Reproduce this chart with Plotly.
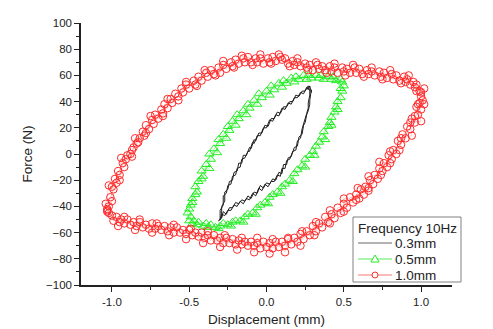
import plotly.graph_objects as go

# Hysteresis loops at 10 Hz: displacement (mm) vs force (N), recorded over several cycles
black_cycle_a = [(-0.30,-50),(-0.30,-43),(-0.28,-39),(-0.28,-32),(-0.26,-30),(-0.25,-24),(-0.23,-23),(-0.22,-17),
    (-0.20,-16),(-0.19,-11),(-0.17,-10),(-0.16,-4),(-0.14,-3),(-0.12,2),(-0.11,2),(-0.09,9),(-0.08,8),(-0.06,14),
    (-0.04,14),(-0.02,20),(0.00,20),(0.02,26),(0.04,25),(0.06,30),(0.08,29),(0.10,35),(0.12,34),(0.14,39),(0.16,38),
    (0.18,43),(0.20,43),(0.22,47),(0.24,46),(0.26,51),(0.27,49),(0.28,52),(0.29,47),
    (0.29,49),(0.28,41),(0.28,38),(0.27,33),(0.26,30),(0.25,24),(0.24,22),(0.23,15),(0.21,13),(0.20,6),(0.18,5),
    (0.16,-2),(0.14,-3),(0.13,-8),(0.11,-8),(0.10,-15),(0.08,-14),(0.06,-20),(0.04,-19),(0.02,-23),(0.00,-22),
    (-0.02,-26),(-0.04,-24),(-0.06,-30),(-0.08,-29),(-0.10,-34),(-0.12,-32),(-0.14,-36),(-0.16,-35),(-0.18,-38),
    (-0.20,-37),(-0.22,-41),(-0.24,-41),(-0.26,-46),(-0.28,-44),(-0.29,-49),(-0.31,-51)]
black_cycle_b = [(-0.29,-48),(-0.29,-40),(-0.27,-36),(-0.27,-29),(-0.25,-27),(-0.24,-21),(-0.22,-20),(-0.21,-14),
    (-0.19,-13),(-0.18,-7),(-0.16,-7),(-0.15,-1),(-0.13,-1),(-0.11,5),(-0.10,4),(-0.08,11),(-0.07,10),(-0.05,16),
    (-0.03,16),(-0.01,22),(0.01,21),(0.03,27),(0.05,27),(0.07,32),(0.09,31),(0.11,36),(0.13,36),(0.15,40),(0.17,40),
    (0.19,45),(0.21,44),(0.23,48),(0.25,48),(0.27,52),(0.28,48),
    (0.28,45),(0.27,39),(0.27,35),(0.26,31),(0.25,27),(0.24,21),(0.23,19),(0.22,12),(0.20,10),(0.19,3),(0.17,2),
    (0.15,-4),(0.13,-5),(0.12,-11),(0.10,-11),(0.09,-17),(0.07,-16),(0.05,-21),(0.03,-21),(0.01,-25),(-0.01,-23),
    (-0.03,-28),(-0.05,-26),(-0.07,-32),(-0.09,-30),(-0.11,-35),(-0.13,-34),(-0.15,-38),(-0.17,-36),(-0.19,-40),
    (-0.21,-39),(-0.23,-43),(-0.25,-43),(-0.27,-47),(-0.29,-46),(-0.30,-50)]

green_cycle_a = [(-0.50,-51),(-0.51,-45),(-0.49,-39),(-0.48,-34),(-0.45,-29),(-0.44,-21),(-0.41,-17),(-0.39,-8),
    (-0.36,-4),(-0.34,4),(-0.30,8),(-0.28,15),(-0.24,18),(-0.22,25),(-0.18,27),(-0.15,33),(-0.11,35),(-0.08,41),
    (-0.03,43),(0.00,48),(0.05,49),(0.08,54),(0.13,54),(0.16,58),(0.21,57),(0.24,60),(0.29,58),(0.32,60),(0.37,57),
    (0.40,59),(0.45,56),(0.48,57),(0.50,52),(0.49,48),
    (0.48,43),(0.45,36),(0.44,32),(0.41,24),(0.40,21),(0.36,13),(0.34,9),(0.30,2),(0.28,-1),(0.23,-9),(0.20,-12),
    (0.15,-20),(0.12,-23),(0.07,-29),(0.04,-31),(-0.01,-37),(-0.04,-39),(-0.09,-45),(-0.12,-46),(-0.17,-51),
    (-0.20,-51),(-0.25,-54),(-0.28,-53),(-0.33,-56),(-0.36,-54),(-0.41,-55),(-0.44,-52),(-0.48,-53)]
green_cycle_b = [(-0.49,-48),(-0.50,-42),(-0.48,-37),(-0.46,-31),(-0.46,-25),(-0.42,-19),(-0.42,-13),(-0.37,-11),
    (-0.37,0),(-0.32,1),(-0.31,11),(-0.26,12),(-0.25,21),(-0.20,22),(-0.19,30),(-0.13,30),(-0.12,38),(-0.06,38),
    (-0.05,46),(0.02,45),(0.03,52),(0.10,51),(0.11,56),(0.18,55),(0.19,59),(0.26,57),(0.27,60),(0.34,58),(0.35,60),
    (0.42,57),(0.43,59),(0.49,55),(0.48,50),
    (0.46,40),(0.46,34),(0.42,28),(0.42,22),(0.37,17),(0.38,11),(0.32,6),(0.31,-1),(0.25,-4),(0.25,-10),(0.18,-15),
    (0.17,-21),(0.10,-25),(0.09,-30),(0.02,-33),(0.01,-38),(-0.06,-41),(-0.07,-46),(-0.14,-48),(-0.15,-52),
    (-0.22,-52),(-0.23,-55),(-0.30,-55),(-0.31,-57),(-0.38,-56),(-0.39,-53),(-0.45,-54),(-0.47,-51)]

red_cycle_a = [(-1.02,-40),(-1.01,-33),(-0.99,-27),(-0.98,-19),(-0.95,-16),(-0.93,-7),(-0.91,-4),(-0.87,3),
    (-0.86,5),(-0.82,12),(-0.80,17),(-0.76,19),(-0.74,26),(-0.70,27),(-0.68,34),(-0.64,35),(-0.62,42),(-0.57,44),
    (-0.55,50),(-0.50,50),(-0.47,56),(-0.42,56),(-0.39,62),(-0.34,61),(-0.31,66),(-0.26,65),(-0.23,70),(-0.18,69),
    (-0.15,73),(-0.10,70),(-0.07,73),(-0.02,69),(0.01,73),(0.06,71),(0.09,74),(0.14,69),(0.17,71),(0.22,67),
    (0.25,69),(0.30,64),(0.33,68),(0.38,64),(0.41,67),(0.46,62),(0.49,66),(0.54,62),(0.57,66),(0.62,61),(0.65,64),
    (0.70,60),(0.73,63),(0.78,58),(0.81,61),(0.86,56),(0.89,59),(0.93,53),(0.95,55),(0.99,48),(1.00,47),
    (1.01,41),(0.98,38),(0.98,30),(0.94,27),(0.93,19),(0.88,15),(0.87,7),(0.82,3),(0.81,-4),(0.76,-7),(0.75,-13),
    (0.70,-16),(0.69,-23),(0.64,-25),(0.63,-31),(0.58,-31),(0.56,-37),(0.50,-38),(0.48,-45),(0.42,-46),(0.40,-52),
    (0.34,-53),(0.32,-59),(0.26,-59),(0.24,-65),(0.18,-64),(0.16,-69),(0.10,-67),(0.08,-71),(0.02,-68),(0.00,-71),
    (-0.06,-68),(-0.08,-70),(-0.14,-67),(-0.16,-69),(-0.22,-65),(-0.24,-68),(-0.30,-64),(-0.32,-66),(-0.38,-62),
    (-0.40,-64),(-0.46,-60),(-0.48,-62),(-0.54,-58),(-0.56,-60),(-0.62,-56),(-0.64,-59),(-0.70,-55),(-0.72,-57),
    (-0.78,-54),(-0.80,-56),(-0.86,-52),(-0.88,-54),(-0.94,-50),(-0.95,-52),(-1.00,-47),(-1.02,-45)]
red_cycle_b = [(-1.03,-43),(-1.00,-36),(-1.00,-25),(-0.97,-22),(-0.96,-13),(-0.92,-10),(-0.90,-1),(-0.88,0),
    (-0.84,8),(-0.83,9),(-0.79,14),(-0.78,22),(-0.73,23),(-0.72,30),(-0.67,31),(-0.66,38),(-0.61,39),(-0.59,46),
    (-0.54,47),(-0.52,53),(-0.46,53),(-0.44,59),(-0.38,59),(-0.36,64),(-0.30,62),(-0.28,68),(-0.22,67),(-0.20,72),
    (-0.14,70),(-0.12,74),(-0.06,70),(-0.04,73),(0.02,70),(0.04,74),(0.10,72),(0.12,73),(0.18,68),(0.20,70),
    (0.26,66),(0.28,68),(0.34,65),(0.36,67),(0.42,63),(0.44,66),(0.50,63),(0.52,65),(0.58,62),(0.60,65),(0.66,61),
    (0.68,63),(0.74,59),(0.76,62),(0.82,57),(0.84,60),(0.90,55),(0.91,57),(0.96,51),(0.97,53),(1.00,44),
    (0.99,39),(1.00,34),(0.96,29),(0.96,24),(0.91,21),(0.90,12),(0.85,10),(0.84,0),(0.79,-1),(0.78,-10),(0.73,-11),
    (0.72,-19),(0.67,-20),(0.66,-28),(0.61,-27),(0.60,-34),(0.54,-33),(0.52,-41),(0.46,-41),(0.44,-49),(0.38,-48),
    (0.36,-56),(0.30,-55),(0.28,-62),(0.22,-61),(0.20,-67),(0.14,-65),(0.12,-70),(0.06,-67),(0.04,-72),(-0.02,-67),
    (-0.04,-72),(-0.10,-67),(-0.12,-70),(-0.18,-66),(-0.20,-69),(-0.26,-64),(-0.28,-68),(-0.34,-62),(-0.36,-66),
    (-0.42,-60),(-0.44,-63),(-0.50,-58),(-0.52,-61),(-0.58,-56),(-0.60,-60),(-0.66,-55),(-0.68,-58),(-0.74,-53),
    (-0.76,-57),(-0.82,-52),(-0.84,-55),(-0.90,-50),(-0.92,-53),(-0.97,-48),(-0.99,-51),(-1.03,-44)]
red_cycle_c = [(-1.04,-38),(-1.02,-24),(-0.95,-20),(-0.94,-3),(-0.87,-2),(-0.85,12),(-0.78,16),(-0.75,29),
    (-0.67,29),(-0.64,42),(-0.57,41),(-0.52,55),(-0.45,52),(-0.40,64),(-0.33,60),(-0.28,71),(-0.21,66),(-0.16,75),
    (-0.09,68),(-0.04,76),(0.03,69),(0.08,76),(0.15,67),(0.20,73),(0.27,64),(0.32,70),(0.39,62),(0.44,69),(0.51,60),
    (0.56,68),(0.63,59),(0.68,66),(0.75,57),(0.80,64),(0.87,54),(0.92,60),(0.97,48),(1.02,50),
    (1.02,38),(0.97,36),(1.00,25),(0.93,24),(0.94,14),(0.87,12),(0.86,3),(0.80,2),(0.80,-7),(0.73,-6),(0.74,-16),
    (0.66,-17),(0.66,-26),(0.59,-26),(0.58,-35),(0.50,-34),(0.50,-44),(0.41,-43),(0.41,-53),(0.32,-52),(0.31,-62),
    (0.23,-59),(0.22,-70),(0.14,-64),(0.12,-75),(0.04,-65),(0.02,-76),(-0.06,-64),(-0.08,-75),(-0.16,-64),
    (-0.19,-73),(-0.27,-62),(-0.30,-71),(-0.38,-59),(-0.41,-68),(-0.49,-57),(-0.52,-65),(-0.60,-54),(-0.63,-62),
    (-0.71,-53),(-0.74,-60),(-0.82,-50),(-0.85,-58),(-0.92,-48),(-0.96,-55),(-1.03,-42)]

x_ticks = [-1.0, -0.5, 0.0, 0.5, 1.0]
x_tick_labels = ["-1.0", "-0.5", "0.0", "0.5", "1.0"]
y_ticks = [-100, -80, -60, -40, -20, 0, 20, 40, 60, 80, 100]
legend_title = "Frequency 10Hz"

# name, points, marker colour, connecting-line colour, legend line colour, symbol, size
series = [
    ("0.3mm", black_cycle_a + black_cycle_b, "#1e1e1e", "#1e1e1e", "#666666", None, 0),
    ("0.5mm", green_cycle_a + green_cycle_b, "#22ee22", "rgba(40,230,40,0.45)", "rgba(40,230,40,0.8)",
     "triangle-up-open", 8),
    ("1.0mm", red_cycle_a + red_cycle_b + red_cycle_c, "#ff2a2a", "rgba(255,60,60,0.3)", "rgba(255,60,60,0.7)",
     "circle-open", 7.5),
]

FONT = "Liberation Sans, Arial, sans-serif"
INK = "#222222"
fig = go.Figure()
for name, pts, color, line_color, _, symbol, size in series:
    xs = [p[0] for p in pts]
    ys = [p[1] for p in pts]
    if symbol is None:
        fig.add_trace(go.Scatter(x=xs, y=ys, mode="lines", name=name,
                                 line=dict(color=color, width=1)))
    else:
        fig.add_trace(go.Scatter(x=xs, y=ys, mode="lines+markers", name=name,
                                 line=dict(color=line_color, width=0.8),
                                 marker=dict(symbol=symbol, size=size, color=color,
                                             line=dict(color=color, width=1))))

axis_common = dict(
    showline=True, linecolor=INK, linewidth=1.5, mirror=False, automargin=False,
    ticks="outside", ticklen=5, tickwidth=1.2, tickcolor=INK,
    showgrid=False, zeroline=False,
    tickfont=dict(family=FONT, size=11.5, color=INK),
)

# plot area in pixels: x 81..452, y 23..285
PL, PR, PT, PB = 81, 452, 23, 285
def px(x):
    return (x - PL) / (PR - PL)
def py(y):
    return (PB - y) / (PB - PT)

# legend drawn as a framed block in the lower right corner
shapes = [dict(type="rect", xref="paper", yref="paper", x0=px(353), x1=px(461), y0=py(282), y1=py(217),
               line=dict(color="#808080", width=1), fillcolor="white", layer="above")]
annotations = [dict(text=legend_title, xref="paper", yref="paper", x=px(356), y=py(228),
                    xanchor="left", yanchor="middle", showarrow=False,
                    font=dict(family=FONT, size=13.5, color=INK))]
row_y = [243, 259, 275]
for (name, pts, color, line_color, legend_line, symbol, size), ry in zip(series, row_y):
    shapes.append(dict(type="line", xref="paper", yref="paper", x0=px(358), x1=px(392), y0=py(ry), y1=py(ry),
                       line=dict(color=legend_line, width=1.2), layer="above"))
    if symbol == "circle-open":
        shapes.append(dict(type="circle", xref="paper", yref="paper", xsizemode="pixel", ysizemode="pixel",
                           xanchor=px(375), yanchor=py(ry), x0=-3, x1=3, y0=-3, y1=3,
                           line=dict(color=color, width=1), fillcolor="white", layer="above"))
    elif symbol == "triangle-up-open":
        shapes.append(dict(type="path", xref="paper", yref="paper", xsizemode="pixel", ysizemode="pixel",
                           xanchor=px(375), yanchor=py(ry), path="M -4 -3 L 4 -3 L 0 4 Z",
                           line=dict(color=color, width=1), fillcolor="white", layer="above"))
    annotations.append(dict(text=name, xref="paper", yref="paper", x=px(393), y=py(ry),
                            xanchor="left", yanchor="middle", showarrow=False,
                            font=dict(family=FONT, size=13.5, color=INK)))

fig.update_layout(
    width=493, height=329,
    margin=dict(l=PL, r=493 - PR, t=PT, b=329 - PB),
    paper_bgcolor="white", plot_bgcolor="white",
    font=dict(family=FONT, color=INK),
    showlegend=False,
    xaxis=dict(range=[-1.2, 1.2], tickvals=x_ticks, ticktext=x_tick_labels,
               minor=dict(dtick=0.25, tick0=0, ticks="outside", ticklen=3, tickcolor=INK),
               title=dict(text="Displacement (mm)", font=dict(family=FONT, size=13.5), standoff=8),
               **axis_common),
    yaxis=dict(range=[-100, 100], tickvals=y_ticks,
               minor=dict(dtick=10, tick0=0, ticks="outside", ticklen=3, tickcolor=INK),
               title=dict(text="Force (N)", font=dict(family=FONT, size=13.5), standoff=10),
               **axis_common),
    shapes=shapes,
    annotations=annotations,
)

fig.write_html("out.html")
